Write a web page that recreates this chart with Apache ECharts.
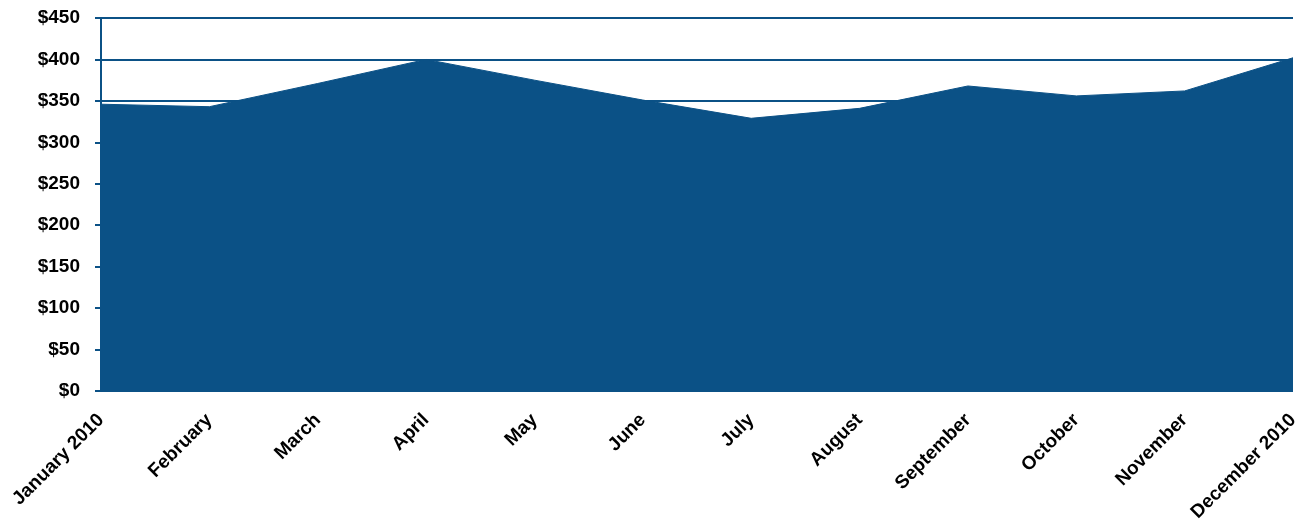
<!DOCTYPE html>
<html>
<head>
<meta charset="utf-8">
<script src="https://cdn.jsdelivr.net/npm/echarts@6/dist/echarts.min.js"></script>
<style>
  html, body { margin: 0; padding: 0; background: #fff; }
  #chart { width: 1302px; height: 525px; }
</style>
</head>
<body>
<div id="chart"></div>
<script>
const months = ['January 2010', 'February', 'March', 'April', 'May', 'June',
  'July', 'August', 'September', 'October', 'November', 'December 2010']
const spend = [346, 343, 371, 400, 375, 351, 329, 341, 368, 356, 362, 402]
const yTicks = { min: 0, max: 450, interval: 50 }

const blue = '#0b5186'
const chart = echarts.init(document.getElementById('chart'))

chart.setOption({
  animation: false,
  grid: { left: 101, right: 9, top: 18, bottom: 134 },
  xAxis: {
    type: 'category',
    data: months,
    boundaryGap: false,
    axisLine: { show: false },
    axisTick: { show: false },
    axisLabel: {
      rotate: 45,
      interval: 0,
      margin: 26,
      color: '#000',
      fontFamily: 'Liberation Sans, Arial, sans-serif',
      fontWeight: 'bold',
      fontSize: 19
    }
  },
  yAxis: {
    type: 'value',
    min: yTicks.min,
    max: yTicks.max,
    interval: yTicks.interval,
    axisLine: { show: true, lineStyle: { color: blue, width: 2 } },
    axisTick: { show: true, length: 6, lineStyle: { color: blue, width: 2 } },
    splitLine: { show: true, lineStyle: { color: blue, width: 2 } },
    axisLabel: {
      margin: 21,
      color: '#000',
      fontFamily: 'Liberation Sans, Arial, sans-serif',
      fontWeight: 'bold',
      fontSize: 19,
      formatter: (v) => '$' + v
    }
  },
  series: [{
    type: 'line',
    data: spend,
    symbol: 'none',
    lineStyle: { color: blue, width: 1 },
    areaStyle: { color: blue, opacity: 1 },
    z: 3
  }]
})
</script>
</body>
</html>
